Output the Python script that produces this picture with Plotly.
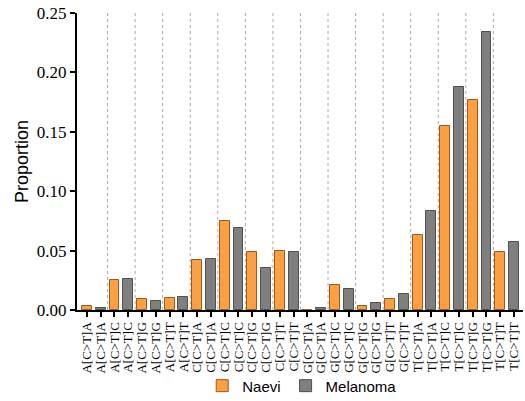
import plotly.graph_objects as go

contexts = ["A[C>T]A", "A[C>T]C", "A[C>T]G", "A[C>T]T",
            "C[C>T]A", "C[C>T]C", "C[C>T]G", "C[C>T]T",
            "G[C>T]A", "G[C>T]C", "G[C>T]G", "G[C>T]T",
            "T[C>T]A", "T[C>T]C", "T[C>T]G", "T[C>T]T"]

naevi = [0.003, 0.025, 0.009, 0.010,
         0.042, 0.075, 0.049, 0.050,
         0.0003, 0.021, 0.0036, 0.0093,
         0.063, 0.155, 0.177, 0.049]

melanoma = [0.002, 0.026, 0.0076, 0.011,
            0.043, 0.069, 0.035, 0.049,
            0.002, 0.018, 0.0062, 0.0137,
            0.083, 0.188, 0.234, 0.057]

n = len(contexts)
x_naevi = [2 * i for i in range(n)]
x_mel = [2 * i + 1 for i in range(n)]
tick_pos = [p for i in range(n) for p in (2 * i, 2 * i + 1)]
tick_txt = [c for c in contexts for _ in range(2)]

SERIF = "Liberation Serif"
SANS = "Liberation Sans"

fig = go.Figure()
fig.add_trace(go.Bar(
    x=x_naevi, y=naevi, name="Naevi", width=0.72,
    marker=dict(color="#FFA040", line=dict(color="#9A5A20", width=1)),
))
fig.add_trace(go.Bar(
    x=x_mel, y=melanoma, name="Melanoma", width=0.72,
    marker=dict(color="#7F7F7F", line=dict(color="#505050", width=1)),
))

# dotted separators between context pairs
for i in range(n - 1):
    fig.add_shape(type="line", xref="x", yref="paper",
                  x0=2 * i + 1.5, x1=2 * i + 1.5, y0=0, y1=1,
                  line=dict(color="#AAAAAA", width=1, dash="dot"), layer="below")

fig.update_layout(
    width=525, height=401,
    margin=dict(l=77, r=2, t=13, b=91, autoexpand=False),
    plot_bgcolor="white", paper_bgcolor="white",
    showlegend=True,
    legend=dict(orientation="h", x=0.505, xanchor="center", y=-0.2, yanchor="top",
                bgcolor="rgba(0,0,0,0)",
                font=dict(family=SANS, size=15, color="black"),
                itemwidth=30, traceorder="normal"),
    bargap=0,
)
fig.update_xaxes(
    range=[-0.72, 2 * n - 0.35], automargin=False,
    tickmode="array", tickvals=tick_pos, ticktext=tick_txt, tickangle=-90,
    tickfont=dict(family=SERIF, size=13, color="black"),
    showline=True, linecolor="black", linewidth=2,
    ticks="outside", ticklen=5, tickwidth=2, tickcolor="black",
    showgrid=False, zeroline=False,
)
fig.update_yaxes(
    range=[0, 0.25], dtick=0.05, tickformat=".2f", automargin=False,
    tickfont=dict(family=SERIF, size=17, color="black"),
    title=dict(text="Proportion", font=dict(family=SANS, size=18, color="black"), standoff=4),
    showline=True, linecolor="black", linewidth=2,
    ticks="outside", ticklen=5, tickwidth=2, tickcolor="black",
    showgrid=False, zeroline=False,
)

fig.write_html("out.html")
